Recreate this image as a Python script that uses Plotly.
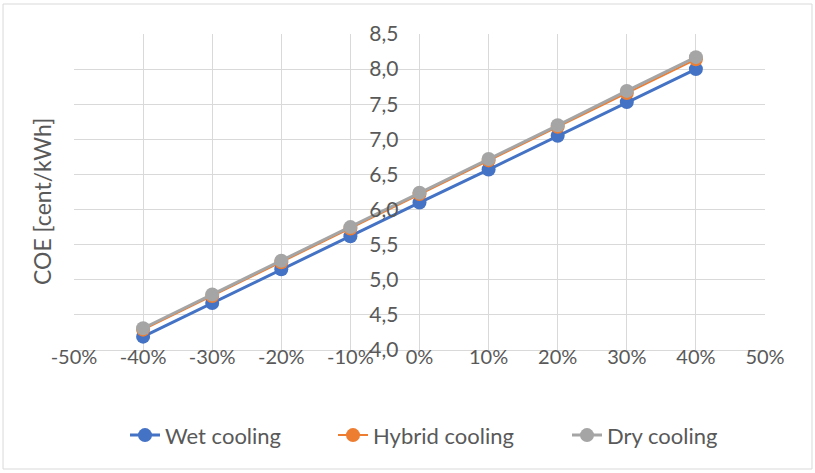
import plotly.graph_objects as go

# Change in cost parameter (%) and resulting cost of electricity (cent/kWh)
variation = [-40, -30, -20, -10, 0, 10, 20, 30, 40]
wet_cooling = [4.19, 4.67, 5.15, 5.62, 6.10, 6.57, 7.05, 7.53, 8.00]
hybrid_cooling = [4.29, 4.77, 5.25, 5.73, 6.22, 6.70, 7.18, 7.66, 8.14]
dry_cooling = [4.31, 4.79, 5.27, 5.75, 6.24, 6.72, 7.20, 7.69, 8.17]

x_ticks = [-50, -40, -30, -20, -10, 0, 10, 20, 30, 40, 50]
y_ticks = [4.0, 4.5, 5.0, 5.5, 6.0, 6.5, 7.0, 7.5, 8.0, 8.5]

FONT = "Lato"
TEXT = "#595959"
GRID = "#D9D9D9"

# plot area in pixels
PLOT_L, PLOT_W = 74, 691
PLOT_B, PLOT_H = 350, 316


def px_to_paper_x(px):
    return (px - PLOT_L) / PLOT_W


def px_to_paper_y(py):
    return (PLOT_B - py) / PLOT_H


series = [
    ("Wet cooling", wet_cooling, "#4472C4", 3, "legend", 167),
    ("Hybrid cooling", hybrid_cooling, "#ED7D31", 2, "legend2", 375),
    ("Dry cooling", dry_cooling, "#A5A5A5", 3, "legend3", 609),
]

fig = go.Figure()
for name, vals, color, lw, leg, _ in series:
    fig.add_trace(go.Scatter(
        x=variation, y=vals, name=name, mode="lines+markers",
        line=dict(color=color, width=lw),
        marker=dict(color=color, size=14),
        legend=leg,
    ))

# invisible companion trace so the centred value axis is rendered
fig.add_trace(go.Scatter(x=variation, y=dry_cooling, yaxis="y2",
                         mode="lines", opacity=0, showlegend=False,
                         hoverinfo="skip"))

legend_style = dict(orientation="h", yanchor="middle", y=-0.27,
                    xanchor="left", font=dict(size=22, color=TEXT),
                    bgcolor="rgba(0,0,0,0)")
legends = {}
for name, _, _, _, leg, text_x in series:
    legends[leg] = dict(legend_style, x=px_to_paper_x(text_x - 42))

fig.update_layout(
    width=815, height=473,
    margin=dict(l=74, r=50, t=34, b=123),
    paper_bgcolor="white", plot_bgcolor="white",
    font=dict(family=FONT, size=21, color=TEXT),
    separators=", ",
    showlegend=True,
    xaxis=dict(range=[-50, 50], tickvals=x_ticks,
               ticktext=[f"{v}%" for v in x_ticks],
               showgrid=True, gridcolor=GRID, gridwidth=1,
               zeroline=False, showline=True, linecolor=GRID,
               ticks="", ticklabelstandoff=-11,
               tickfont=dict(size=20, color=TEXT)),
    yaxis=dict(range=[4.0, 8.5], tickvals=y_ticks,
               showticklabels=False, showgrid=True, gridcolor=GRID,
               zeroline=False, showline=False, ticks=""),
    yaxis2=dict(matches="y", overlaying="y", anchor="free", position=0.5,
                side="left", tickvals=y_ticks, tickformat=".1f",
                showgrid=False, zeroline=False, showline=False, ticks="",
                ticklabelstandoff=21,
                tickfont=dict(size=21, color=TEXT)),
    annotations=[dict(text="COE [cent/kWh]", textangle=-90,
                      xref="paper", yref="paper",
                      x=px_to_paper_x(42), y=px_to_paper_y(202),
                      xanchor="center", yanchor="middle", showarrow=False,
                      font=dict(size=23, color=TEXT))],
    shapes=[dict(type="rect", xref="paper", yref="paper",
                 x0=-0.1027, x1=1.068, y0=-0.3766, y1=1.0949,
                 line=dict(color=GRID, width=1), fillcolor="rgba(0,0,0,0)",
                 layer="below")],
    **legends,
)

fig.write_html("out.html")
